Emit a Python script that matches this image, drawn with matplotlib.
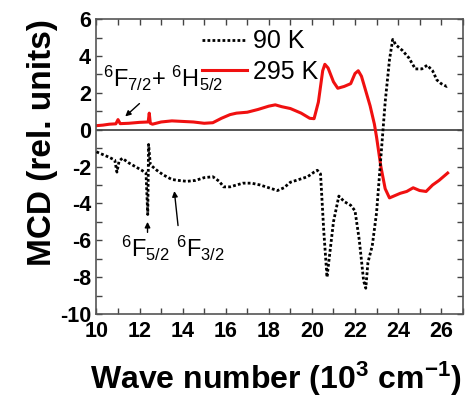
import numpy as np
import matplotlib
matplotlib.use("Agg")
import matplotlib.pyplot as plt

plt.rcParams['font.family'] = ['Liberation Sans', 'DejaVu Sans']
plt.rcParams['mathtext.fontset'] = 'custom'
plt.rcParams['mathtext.rm'] = 'Liberation Sans'
plt.rcParams['mathtext.bf'] = 'Liberation Sans:bold'
plt.rcParams['axes.unicode_minus'] = False

# MCD spectrum at 295 K (wave number in 10^3 cm^-1)
x_295 = [10.0, 10.3, 10.6, 10.9, 11.0, 11.1, 11.5, 12.0, 12.4, 12.45, 12.5, 12.6,
         13.0, 13.5, 14.0, 14.5, 15.0, 15.4, 15.8, 16.2, 16.5, 17.0, 17.5, 18.0,
         18.3, 18.6, 19.0, 19.5, 19.9, 20.1, 20.3, 20.5, 20.6, 20.75, 21.0, 21.2,
         21.5, 21.8, 22.0, 22.15, 22.3, 22.5, 22.7, 22.9, 23.0, 23.2, 23.4, 23.6,
         23.8, 24.1, 24.4, 24.7, 25.0, 25.3, 25.6, 25.9, 26.1, 26.3]
mcd_295 = [0.22, 0.25, 0.30, 0.32, 0.55, 0.33, 0.35, 0.40, 0.42, 0.90, 0.35, 0.30,
           0.42, 0.48, 0.45, 0.42, 0.35, 0.38, 0.62, 0.82, 0.90, 0.95, 1.10, 1.28,
           1.35, 1.25, 1.15, 0.90, 0.62, 0.60, 1.50, 3.20, 3.55, 3.35, 2.60, 2.25,
           2.35, 2.50, 3.05, 3.20, 2.90, 2.10, 1.30, 0.30, -0.40, -2.00, -3.20, -3.70,
           -3.60, -3.45, -3.35, -3.15, -3.30, -3.35, -3.00, -2.75, -2.55, -2.35]

# MCD spectrum at 90 K
x_90 = [10.0, 10.3, 10.6, 10.85, 10.95, 11.05, 11.2, 11.5, 11.8, 12.1, 12.3, 12.38,
        12.42, 12.5, 12.8, 13.1, 13.5, 13.8, 14.2, 14.6, 15.0, 15.4, 15.7, 15.9,
        16.2, 16.5, 16.8, 17.2, 17.6, 18.0, 18.4, 18.7, 19.0, 19.4, 19.8, 20.1,
        20.25, 20.4, 20.55, 20.7, 20.8, 21.0, 21.25, 21.5, 21.8, 22.0, 22.2, 22.4,
        22.5, 22.6, 22.8, 23.0, 23.2, 23.4, 23.6, 23.75, 23.9, 24.2, 24.5, 24.8,
        25.1, 25.35, 25.6, 25.8, 26.0, 26.25, 26.3]
mcd_90 = [-1.20, -1.35, -1.50, -1.65, -2.30, -1.70, -1.55, -1.80, -2.00, -2.20, -2.35, -4.60,
          -0.80, -1.90, -2.20, -2.45, -2.70, -2.75, -2.80, -2.75, -2.60, -2.55, -2.80, -3.10,
          -3.10, -3.00, -2.90, -2.90, -3.00, -3.15, -3.30, -3.15, -2.85, -2.70, -2.55, -2.30,
          -2.20, -2.40, -5.50, -8.00, -7.00, -5.00, -3.60, -3.90, -4.10, -4.40, -6.00, -8.20,
          -8.60, -7.20, -6.30, -4.50, -1.50, 1.50, 3.80, 4.90, 4.60, 4.30, 3.90, 3.30,
          3.30, 3.50, 3.20, 2.70, 2.50, 2.35, 2.40]

fig = plt.figure(figsize=(4.66, 3.99), dpi=100)
ax = fig.add_axes([0.207, 0.213, 0.786, 0.739])

ax.axhline(0, color='#555555', lw=1.4, zorder=1)
ax.plot(x_90, mcd_90, color='black', lw=2.0, linestyle=(0, (1, 0.8)), label='90 K', zorder=3)
ax.plot(x_295, mcd_295, color='#f01010', lw=2.2, label='295 K', zorder=2)

ax.set_xlim(10, 27)
ax.set_ylim(-10, 6)
ax.set_xticks(np.arange(10, 27, 2))
ax.set_xticks(np.arange(10, 28, 1), minor=True)
ax.set_yticks(np.arange(-10, 7, 2))
ax.set_yticks(np.arange(-10, 7, 1), minor=True)
ax.tick_params(which='both', direction='in', top=True, right=True, length=4,
               width=1.0, color='#444444')
ax.tick_params(which='major', labelsize=15.5)
ax.tick_params(axis='x', which='major', pad=5)
ax.tick_params(axis='y', which='major', pad=4)
for lab in ax.get_xticklabels() + ax.get_yticklabels():
    lab.set_fontweight('bold')
for sp in ax.spines.values():
    sp.set_color('#555555')
    sp.set_linewidth(1.2)

ax.set_xlabel(r'Wave number (10$\mathbf{^{3}}$ cm$\mathbf{^{-1}}$)', fontsize=23,
              fontweight='bold')
ax.xaxis.set_label_coords(0.49, -0.155)
ax.xaxis.label.set_va('top')
ax.set_ylabel('MCD (rel. units)', fontsize=24, fontweight='bold')
ax.yaxis.set_label_coords(-0.105, 0.58)

ax.legend(loc='upper left', bbox_to_anchor=(0.287, 0.965), frameon=False, fontsize=18,
          handlelength=1.8, handletextpad=0.25, labelspacing=0.25,
          borderpad=0, borderaxespad=0)

# transition labels
ax.text(10.3, 2.3, r'$\mathregular{^6F_{7/2}}$+ $\mathregular{^6H_{5/2}}$', fontsize=17)
ax.annotate('', xy=(11.24, 0.62), xytext=(12.09, 1.52),
            arrowprops=dict(arrowstyle='-|>', color='black', lw=1, mutation_scale=8))
ax.text(11.13, -6.9, r'$\mathregular{^6F_{5/2}}$', fontsize=17)
ax.annotate('', xy=(12.37, -4.85), xytext=(12.37, -5.72),
            arrowprops=dict(arrowstyle='-|>', color='black', lw=1, mutation_scale=8))
ax.text(13.68, -6.9, r'$\mathregular{^6F_{3/2}}$', fontsize=17)
ax.annotate('', xy=(13.6, -3.18), xytext=(13.8, -5.35),
            arrowprops=dict(arrowstyle='-|>', color='black', lw=1, mutation_scale=8))

fig.savefig('out.png', dpi=100)
